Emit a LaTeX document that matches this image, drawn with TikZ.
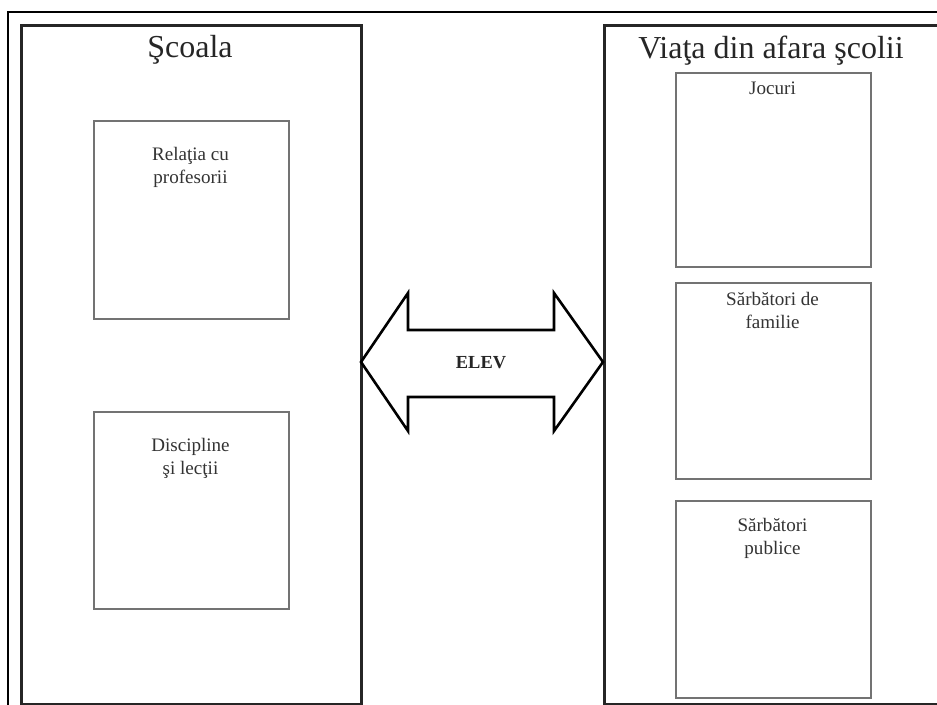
\documentclass[tikz,border=0pt]{standalone}
\usepackage{fontspec}
\setmainfont{Liberation Serif}
\newdimen\pxu \pxu=0.75pt
\begin{document}
\begin{tikzpicture}[x=0.75pt,y=-0.75pt,
  outerframe/.style={draw=black, line width=2\pxu},
  panel/.style={draw=black!85, line width=2.6\pxu, anchor=north west, inner sep=0pt,
    minimum width=340\pxu, minimum height=679\pxu},
  cellbox/.style={draw=black!55, line width=1.6\pxu, anchor=north west, inner sep=0pt,
    minimum width=195\pxu, minimum height=196\pxu},
  heading/.style={font=\fontsize{24}{28}\selectfont, text=black!85, anchor=base, inner sep=0pt},
  celltext/.style={font=\fontsize{14.3}{17}\selectfont, align=center, text=black!80,
    anchor=north, inner sep=0pt},
  bigarrow/.style={draw=black, line width=2.6\pxu, line join=miter, fill=white},
  arrowtext/.style={font=\bfseries\fontsize{13.8}{16}\selectfont, text=black!85}]
\useasboundingbox (0,0) rectangle (937,705);

% outer frame (only its top and left sides fall inside the page)
\draw[outerframe] (8,720) -- (8,12) -- (950,12);

% the two panels
\node[panel] (school) at (20,24) {};
\node[panel, minimum width=345\pxu] (outside) at (603,24) {};

\node[heading] (schooltitle) at (190,58) {Şcoala};
\node[heading] (outsidetitle) at (771,58.5) {Viaţa din afara şcolii};

% boxes of the school panel
\node[cellbox, minimum height=198\pxu] (teachers) at (93,120) {};
\node[cellbox, minimum height=197\pxu] (lessons) at (93,411) {};
\node[celltext] (teacherstext) at (190.5,147) {Relaţia cu\\profesorii};
\node[celltext] (lessonstext) at (190.5,438) {Discipline\\şi lecţii};

% boxes of the outside panel
\node[cellbox, minimum height=194\pxu] (games) at (675,72) {};
\node[cellbox, minimum height=196\pxu] (family) at (675,282) {};
\node[cellbox, minimum height=197\pxu] (public) at (675,500) {};
\node[celltext] (gamestext) at (772.5,82) {Jocuri};
\node[celltext] (familytext) at (772.5,292) {Sărbători de\\familie};
\node[celltext] (publictext) at (772.5,518) {Sărbători\\publice};

% double block arrow between the panels
\coordinate (tipL) at (361,362);
\coordinate (tipR) at (603,362);
\draw[bigarrow] (tipL) -- (408,293) -- (408,330) -- (554,330) -- (554,293) -- (tipR)
  -- (554,431) -- (554,397) -- (408,397) -- (408,431) -- cycle;
\node[arrowtext] (pupil) at (481,363) {ELEV};
\end{tikzpicture}
\end{document}
